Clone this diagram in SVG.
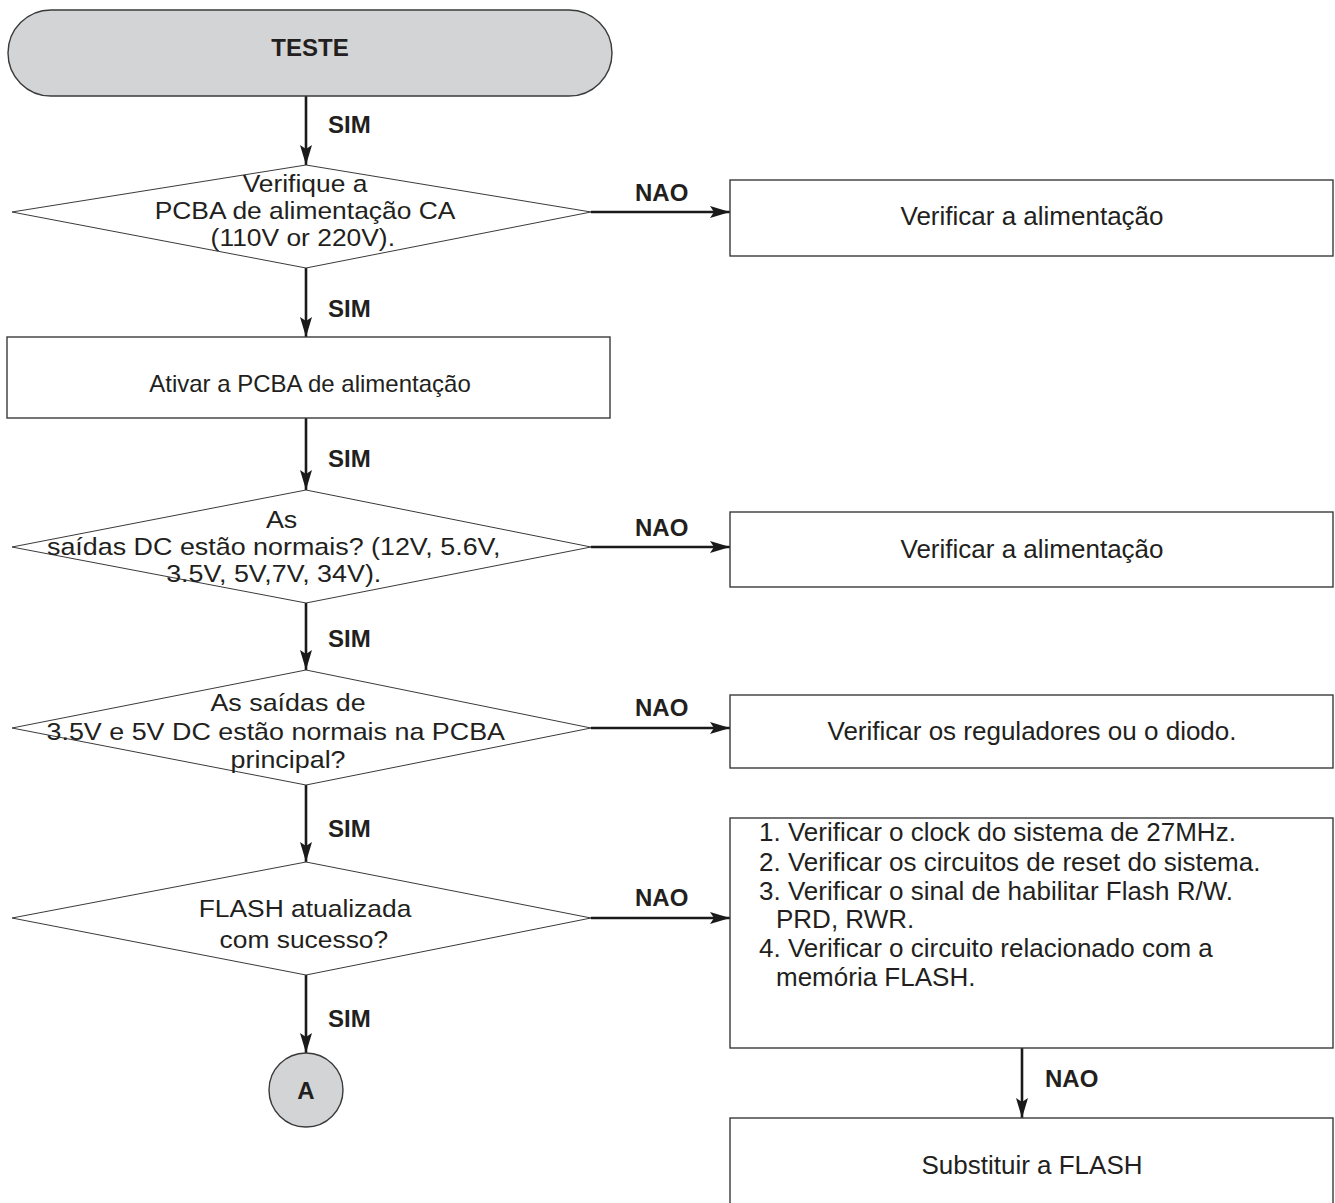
<svg xmlns="http://www.w3.org/2000/svg" width="1335" height="1203" viewBox="0 0 1335 1203">
  <defs>
    <marker id="arrow" viewBox="0 0 20 12" refX="20" refY="6" markerWidth="20" markerHeight="12" markerUnits="userSpaceOnUse" orient="auto">
      <path d="M0,0 L20,6 L0,12 L4,6 z" fill="#1a1a1a"/>
    </marker>
  </defs>
  <style>
    .box { fill: #ffffff; stroke: #3a3a3a; stroke-width: 1.4; }
    .dia { fill: #ffffff; stroke: #3a3a3a; stroke-width: 1; }
    .term { fill: #d3d4d6; stroke: #3a3a3a; stroke-width: 1.4; }
    .edge { fill: none; stroke: #1a1a1a; stroke-width: 2.6; marker-end: url(#arrow); }
    text { font-family: "Liberation Sans", Arial, sans-serif; fill: #231f20; }
    .t { font-size: 24px; text-anchor: middle; }
    .tb { font-size: 26px; text-anchor: middle; }
    .tl { font-size: 26px; }
    .lbl { font-size: 24px; font-weight: bold; }
    .bold { font-size: 24px; font-weight: bold; text-anchor: middle; }
  </style>

  <rect width="1335" height="1203" fill="#ffffff"/>

  <!-- connectors -->
  <g id="connectors">
    <line class="edge" x1="306" y1="96" x2="306" y2="165"/>
    <line class="edge" x1="591" y1="212" x2="730" y2="212"/>
    <line class="edge" x1="306" y1="268" x2="306" y2="337"/>
    <line class="edge" x1="306" y1="418" x2="306" y2="490"/>
    <line class="edge" x1="591" y1="547" x2="730" y2="547"/>
    <line class="edge" x1="306" y1="603" x2="306" y2="670"/>
    <line class="edge" x1="591" y1="728" x2="730" y2="728"/>
    <line class="edge" x1="306" y1="785" x2="306" y2="862"/>
    <line class="edge" x1="591" y1="918" x2="730" y2="918"/>
    <line class="edge" x1="306" y1="975" x2="306" y2="1053"/>
    <line class="edge" x1="1022" y1="1048" x2="1022" y2="1118"/>

    <text class="lbl" x="328" y="133">SIM</text>
    <text class="lbl" x="328" y="317">SIM</text>
    <text class="lbl" x="328" y="467">SIM</text>
    <text class="lbl" x="328" y="647">SIM</text>
    <text class="lbl" x="328" y="837">SIM</text>
    <text class="lbl" x="328" y="1027">SIM</text>
    <text class="lbl" x="635" y="201">NAO</text>
    <text class="lbl" x="635" y="536">NAO</text>
    <text class="lbl" x="635" y="716">NAO</text>
    <text class="lbl" x="635" y="906">NAO</text>
    <text class="lbl" x="1045" y="1087">NAO</text>
  </g>

  <!-- start terminal -->
  <g id="start">
    <rect class="term" x="8" y="10" width="604" height="86" rx="43" ry="43"/>
    <text class="bold" x="310" y="56">TESTE</text>
  </g>

  <!-- AC power check -->
  <g id="check-ac">
    <polygon class="dia" points="12,212 306,165 591,212 306,268"/>
    <g transform="translate(305,0) scale(1.1,1) translate(-305,0)">
      <text class="t" x="305" y="192">Verifique a</text>
      <text class="t" x="305" y="219">PCBA de alimentação CA</text>
      <text class="t" x="303" y="246">(110V or 220V).</text>
    </g>
  </g>

  <g id="power-1">
    <rect class="box" x="730" y="180" width="603" height="76"/>
    <text class="tb" x="1032" y="225">Verificar a alimentação</text>
  </g>

  <g id="enable-power">
    <rect class="box" x="7" y="337" width="603" height="81"/>
    <text class="t" x="310" y="392">Ativar a PCBA de alimentação</text>
  </g>

  <!-- DC outputs check -->
  <g id="check-dc">
    <polygon class="dia" points="12,547 306,490 591,547 306,603"/>
    <g transform="translate(276,0) scale(1.12,1) translate(-276,0)">
      <text class="t" x="281" y="528">As</text>
      <text class="t" x="274" y="555">saídas DC estão normais? (12V, 5.6V,</text>
      <text class="t" x="274" y="582">3.5V, 5V,7V, 34V).</text>
    </g>
  </g>

  <g id="power-2">
    <rect class="box" x="730" y="512" width="603" height="75"/>
    <text class="tb" x="1032" y="558">Verificar a alimentação</text>
  </g>

  <!-- main board rails check -->
  <g id="check-main">
    <polygon class="dia" points="12,728 306,670 591,728 306,785"/>
    <g transform="translate(278,0) scale(1.12,1) translate(-278,0)">
      <text class="t" x="287" y="711">As saídas de</text>
      <text class="t" x="276" y="740">3.5V e 5V DC estão normais na PCBA</text>
      <text class="t" x="287" y="768">principal?</text>
    </g>
  </g>

  <g id="regulators">
    <rect class="box" x="730" y="695" width="603" height="73"/>
    <text class="tb" x="1032" y="740">Verificar os reguladores ou o diodo.</text>
  </g>

  <!-- flash update check -->
  <g id="check-flash">
    <polygon class="dia" points="12,918 306,862 591,918 306,975"/>
    <g transform="translate(305,0) scale(1.1,1) translate(-305,0)">
      <text class="t" x="305" y="917">FLASH atualizada</text>
      <text class="t" x="304" y="948">com sucesso?</text>
    </g>
  </g>

  <g id="flash-steps">
    <rect class="box" x="730" y="818" width="603" height="230"/>
    <text class="tl" x="759" y="841">1. Verificar o clock do sistema de 27MHz.</text>
    <text class="tl" x="759" y="871">2. Verificar os circuitos de reset do sistema.</text>
    <text class="tl" x="759" y="900">3. Verificar o sinal de habilitar Flash R/W.</text>
    <text class="tl" x="776" y="928">PRD, RWR.</text>
    <text class="tl" x="759" y="957">4. Verificar o circuito relacionado com a</text>
    <text class="tl" x="776" y="986">memória FLASH.</text>
  </g>

  <g id="replace-flash">
    <rect class="box" x="730" y="1118" width="603" height="100"/>
    <text class="tb" x="1032" y="1174">Substituir a FLASH</text>
  </g>

  <!-- off-page connector -->
  <g id="connector-a">
    <circle class="term" cx="306" cy="1090" r="37"/>
    <text class="bold" x="306" y="1099">A</text>
  </g>
</svg>
